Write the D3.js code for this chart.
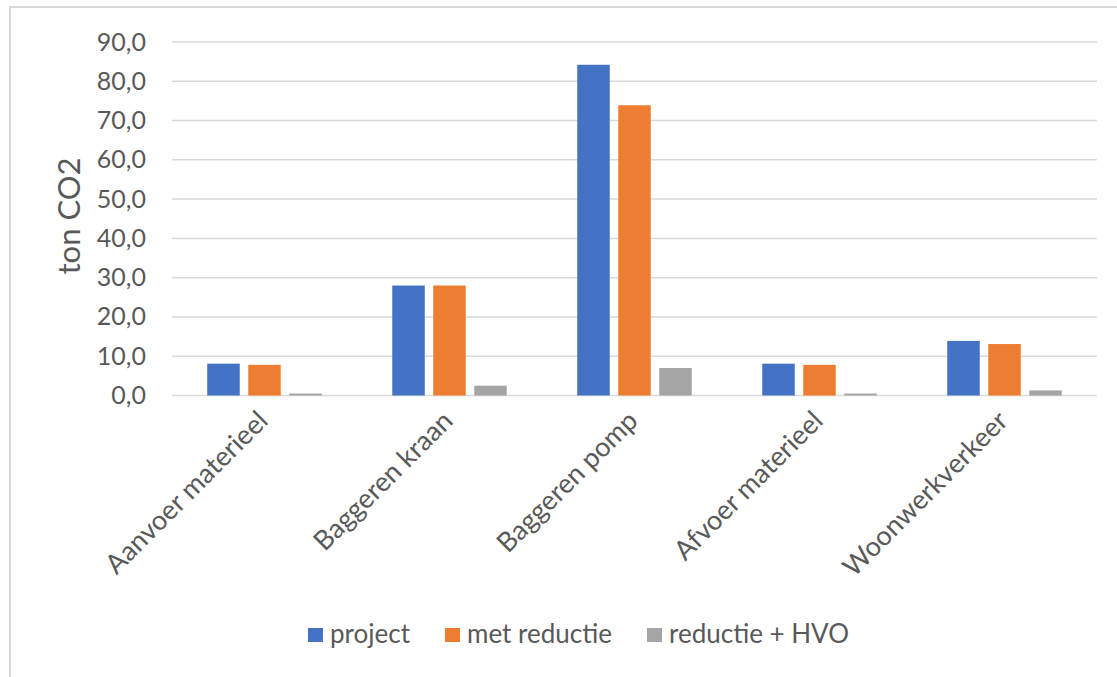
<!DOCTYPE html>
<html><head><meta charset="utf-8">
<script src="https://cdn.jsdelivr.net/npm/d3@7/dist/d3.min.js"></script>
<style>body{margin:0;background:#fff}svg{display:block}text{font-family:Lato,"Open Sans",sans-serif}</style>
</head><body><svg id="c" width="1117" height="677"></svg>
<script>
const categories = ["Aanvoer materieel","Baggeren kraan","Baggeren pomp","Afvoer materieel","Woonwerkverkeer"];
const seriesNames = ["project","met reductie","reductie + HVO"];
const project = [8.1, 28.0, 84.2, 8.1, 13.9];
const metReductie = [7.8, 28.0, 73.9, 7.8, 13.1];
const reductieHVO = [0.5, 2.5, 7.0, 0.5, 1.3];
const yTicks = [0,10,20,30,40,50,60,70,80,90];
const colors = ["#4472C4","#ED7D31","#A5A5A5"];

const series = [project, metReductie, reductieHVO];
const svg = d3.select("#c");
svg.append("rect").attr("x",10).attr("y",7).attr("width",1130).attr("height",700)
  .attr("fill","none").attr("stroke","#d9d9d9").attr("stroke-width",2);

const L=172, R=1097, T=42, B=395.5;
const x = d3.scaleBand().domain(categories).range([L,R]);
const y = d3.scaleLinear().domain([0,90]).range([B,T]);
const fmt = v => d3.format(".1f")(v).replace(".",",");

const g = svg.append("g");
g.selectAll("line.grid").data(yTicks).join("line").attr("class","grid")
  .attr("x1",L).attr("x2",R).attr("y1",d=>y(d)).attr("y2",d=>y(d))
  .attr("stroke","#d9d9d9").attr("stroke-width",1.5);

const yAxis = svg.append("g").attr("transform",`translate(${L},0)`)
  .call(d3.axisLeft(y).tickValues(yTicks).tickFormat(fmt).tickSize(0).tickPadding(26));
yAxis.select(".domain").remove();
yAxis.selectAll("text").attr("fill","#595959").style("font-size","25px");

svg.append("text").attr("transform",`translate(80,216) rotate(-90)`).attr("text-anchor","middle")
  .attr("fill","#595959").style("font-size","31px").text("ton CO2");

const bw = 32.5, step = 41;
series.forEach((s,i)=>{
  svg.append("g").selectAll("rect").data(s).join("rect")
    .attr("x",(d,j)=>x(categories[j])+x.bandwidth()/2 - step - bw/2 + i*step)
    .attr("width",bw)
    .attr("y",d=>y(d)).attr("height",d=>B-y(d))
    .attr("fill",colors[i]);
});

const xAxis = svg.append("g").attr("transform",`translate(0,${B})`)
  .call(d3.axisBottom(x).tickSize(0).tickPadding(0));
xAxis.select(".domain").remove();
xAxis.selectAll("text").attr("fill","#595959").style("font-size","27px")
  .attr("text-anchor","end").attr("dy",null).attr("y",0)
  .attr("transform","translate(5,27) rotate(-45)");

const legendX = [308, 445, 647];
const lg = svg.append("g");
seriesNames.forEach((n,i)=>{
  lg.append("rect").attr("x",legendX[i]).attr("y",628).attr("width",15).attr("height",14).attr("fill",colors[i]);
  lg.append("text").attr("x",legendX[i]+22).attr("y",643).attr("fill","#595959").style("font-size","26px").text(n);
});
</script></body></html>
